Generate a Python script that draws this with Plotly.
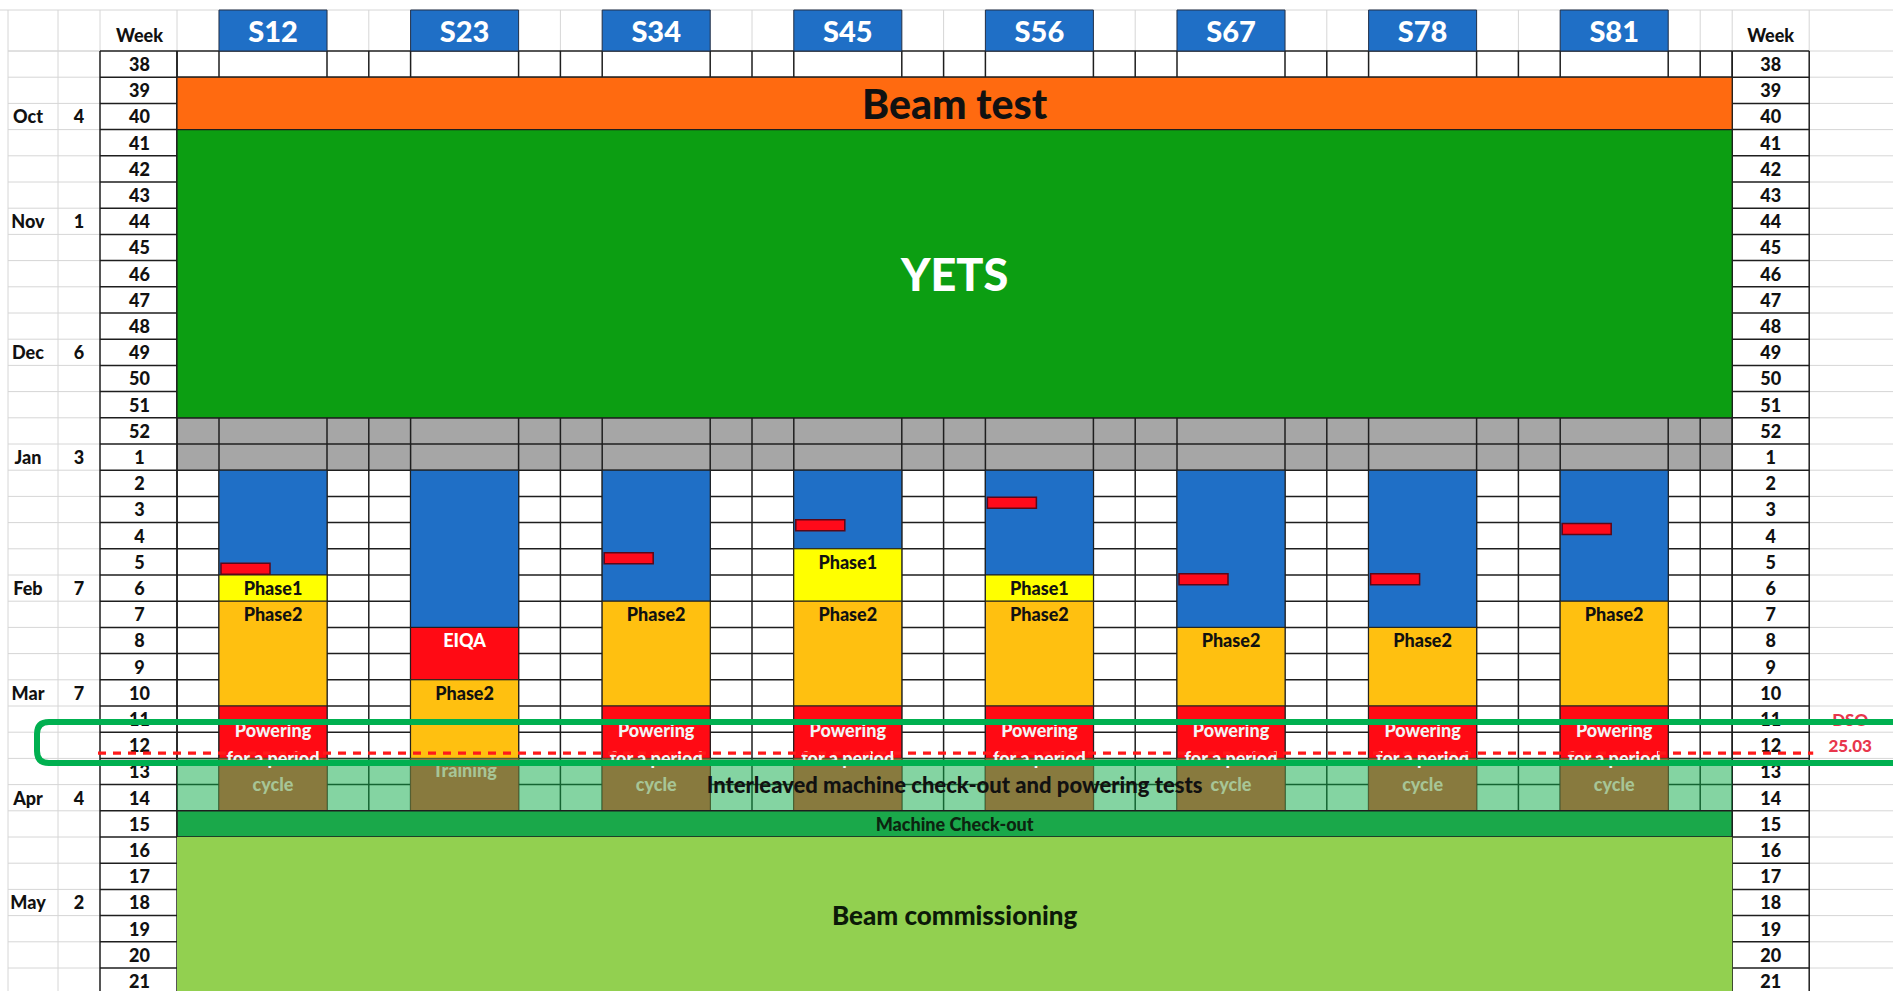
import plotly.graph_objects as go

# ---------------- data ----------------
weeks = list(range(38, 53)) + list(range(1, 22))
months = ["Oct", "Nov", "Dec", "Jan", "Feb", "Mar", "Apr", "May"]
month_weeks = [40, 44, 49, 1, 6, 10, 14, 18]
month_days = ["4", "1", "6", "3", "7", "7", "4", "2"]

sectors = ["S12", "S23", "S34", "S45", "S56", "S67", "S78", "S81"]
cooldown_start = [2, 2, 2, 2, 2, 2, 2, 2]
cooldown_end = [5, 7, 6, 4, 5, 7, 7, 6]
phase1_start = [6, None, None, 5, 6, None, None, None]
phase1_end = [6, None, None, 6, 6, None, None, None]
eiqa_start = [None, 8, None, None, None, None, None, None]
eiqa_end = [None, 9, None, None, None, None, None, None]
phase2_start = [7, 10, 7, 7, 7, 8, 8, 7]
phase2_end = [10, 12, 10, 10, 10, 10, 10, 10]
powering_start = [11, None, 11, 11, 11, 11, 11, 11]
powering_end = [12, None, 12, 12, 12, 12, 12, 12]
cycle_start = [13, 13, 13, 13, 13, 13, 13, 13]
cycle_end = [14, 14, 14, 14, 14, 14, 14, 14]
cycle_labels = ["cycle", "Training", "cycle", "", "", "cycle", "cycle", "cycle"]
milestone_week = [5.76, None, 5.36, 4.10, 3.24, 6.16, 6.16, 4.24]

beam_test_weeks = [39, 40]
yets_weeks = [41, 51]
xmas_weeks = [52, 1]
interleaved_weeks = [13, 14]
checkout_weeks = [15, 15]
commissioning_weeks = [16, 21]

dso_week = 12.8
dso_labels = ["DSO", "25.03"]
highlight_weeks = [11.61, 13.18]

# ---------------- layout geometry ----------------
W, H = 1893, 991
ROW_PX = 26.2
HEAD_TOP_PX, HEAD_BOT_PX = 10, 51
Y_TOP = -HEAD_BOT_PX / ROW_PX
Y_BOT = (H - HEAD_BOT_PX) / ROW_PX
HEAD_TOP = -(HEAD_BOT_PX - HEAD_TOP_PX) / ROW_PX

X_LEFT = 8
MONTH_W, DAY_W, WEEK_W = 50, 42, 77
LEAD_W, SEC_W, GAP_W, TAIL_W = 42, 108, 41.8, 32

x_month0 = X_LEFT
x_day0 = x_month0 + MONTH_W
x_week0 = x_day0 + DAY_W
x_data0 = x_week0 + WEEK_W
data_edges = [x_data0, x_data0 + LEAD_W]
sec_x0 = []
for k in range(len(sectors)):
    s = data_edges[-1]
    sec_x0.append(s)
    g = GAP_W if k < len(sectors) - 1 else TAIL_W
    data_edges += [s + SEC_W, s + SEC_W + g, s + SEC_W + 2 * g]
x_data1 = data_edges[-1]
x_rweek1 = x_data1 + WEEK_W
x_mid = (x_data0 + x_data1) / 2


def r(w):
    whole = int(w)
    frac = w - whole
    base = whole - 38 if whole >= 38 else whole + 14
    return base + frac


shapes = []


def rect(x0, x1, y0, y1, fill, line=None, lw=0, layer="below"):
    shapes.append(dict(type="rect", xref="x", yref="y", x0=x0, x1=x1, y0=y0, y1=y1,
                       fillcolor=fill, line=dict(color=line or fill, width=lw), layer=layer))


def seg(x0, x1, y0, y1, color, lw, layer="below", dash="solid"):
    shapes.append(dict(type="line", xref="x", yref="y", x0=x0, x1=x1, y0=y0, y1=y1,
                       line=dict(color=color, width=lw, dash=dash), layer=layer))


LIGHT = "#d6d6d6"
DARK = "#1e1e1e"
BLUE = "#1f6fc6"
nrows = len(weeks)
grid_bottom = r(14) + 1

# grey Christmas rows
rect(x_data0, x_data1, r(xmas_weeks[0]), r(xmas_weeks[1]) + 1, "#a6a6a6")

# light spreadsheet grid (left & right margins, header)
for i in range(nrows + 1):
    seg(x_month0, x_week0, i, i, LIGHT, 1)
    seg(x_rweek1, W + 5, i, i, LIGHT, 1)
seg(0, W + 5, HEAD_TOP, HEAD_TOP, LIGHT, 1)
seg(x_month0, x_week0, 0, 0, LIGHT, 1)
for xv in [x_month0, x_day0]:
    seg(xv, xv, HEAD_TOP, Y_BOT + 1, LIGHT, 1)
for xv in [x_week0] + data_edges + [x_rweek1]:
    seg(xv, xv, HEAD_TOP, 0, LIGHT, 1)

# black grid in data area
for i in range(0, int(grid_bottom) + 1):
    seg(x_data0, x_data1, i, i, DARK, 1.5)
for xv in data_edges:
    seg(xv, xv, 0, grid_bottom, DARK, 1.5)
# week columns
for (a, b) in [(x_week0, x_data0), (x_data1, x_rweek1)]:
    for i in range(nrows + 1):
        seg(a, b, i, i, DARK, 1.5)
    seg(a, a, 0, Y_BOT + 1, DARK, 1.5)
    seg(b, b, 0, Y_BOT + 1, DARK, 1.5)

# sector header boxes
for k, s in enumerate(sectors):
    rect(sec_x0[k], sec_x0[k] + SEC_W, HEAD_TOP, 0, BLUE, "#24324a", 1)

# campaign bands
rect(x_data0, x_data1, r(beam_test_weeks[0]), r(beam_test_weeks[1]) + 1, "#ff6a10", DARK, 1.2)
rect(x_data0, x_data1, r(yets_weeks[0]), r(yets_weeks[1]) + 1, "#0c9e12", DARK, 1.2)

# sector blocks
block_sets = [
    (cooldown_start, cooldown_end, BLUE),
    (phase1_start, phase1_end, "#ffff00"),
    (eiqa_start, eiqa_end, "#ff0a14"),
    (phase2_start, phase2_end, "#ffc010"),
    (powering_start, powering_end, "#ff0a14"),
]
for starts, ends, col in block_sets:
    for k in range(len(sectors)):
        if starts[k] is None:
            continue
        rect(sec_x0[k], sec_x0[k] + SEC_W, r(starts[k]), r(ends[k]) + 1, col, DARK, 1)

# interleaved band (translucent) + brown sector blocks
rect(x_data0, x_data1, r(interleaved_weeks[0]), r(interleaved_weeks[1]) + 1,
     "rgba(10,170,70,0.5)")
for k in range(len(sectors)):
    rect(sec_x0[k], sec_x0[k] + SEC_W, r(cycle_start[k]), r(cycle_end[k]) + 1, "#887a3e", "#5a5a30", 0.8)
seg(x_data0, x_data1, r(interleaved_weeks[1]) + 1, r(interleaved_weeks[1]) + 1, DARK, 1.5)

rect(x_data0, x_data1, r(checkout_weeks[0]), r(checkout_weeks[1]) + 1, "#1aa84a", DARK, 1.5)
rect(x_data0, x_data1, r(commissioning_weeks[0]), r(commissioning_weeks[1]) + 1.5, "#92d050", "#92d050", 0)

# milestone tabs
TAB_H = 11 / ROW_PX
for k in range(len(sectors)):
    m = milestone_week[k]
    if m is None:
        continue
    yc = r(m)
    rect(sec_x0[k] + 2, sec_x0[k] + 51, yc - TAB_H / 2, yc + TAB_H / 2, "#ff0a1a", "#5a0818", 1.5)

# overlays above text
yd = r(dso_week)
seg(x_week0 - 2, x_rweek1 + 4, yd, yd, "#ff1a1a", 3.4, layer="above", dash="8px,7px")
hx0, hx1 = 37, W + 40
hy0, hy1 = r(highlight_weeks[0]), r(highlight_weeks[1])
rx, ry = 12, 12 / ROW_PX
path = (f"M {hx0+rx},{hy0} L {hx1-rx},{hy0} Q {hx1},{hy0} {hx1},{hy0+ry} "
        f"L {hx1},{hy1-ry} Q {hx1},{hy1} {hx1-rx},{hy1} L {hx0+rx},{hy1} "
        f"Q {hx0},{hy1} {hx0},{hy1-ry} L {hx0},{hy0+ry} Q {hx0},{hy0} {hx0+rx},{hy0} Z")
shapes.append(dict(type="path", xref="x", yref="y", path=path, layer="above",
                   line=dict(color="#00b050", width=6), fillcolor="rgba(0,0,0,0)"))

# ---------------- text ----------------
tx, ty, tt, ts, tc = [], [], [], [], []


def txt(x, y, s, size, color="#111111"):
    # small downward correction so glyphs sit visually centred like the spreadsheet text
    tx.append(x); ty.append(y + 0.13 * size / ROW_PX)
    tt.append(s); ts.append(size); tc.append(color)


wk_label_y = (35 - HEAD_BOT_PX) / ROW_PX
txt((x_week0 + x_data0) / 2 + 1, wk_label_y, "Week", 18)
txt((x_data1 + x_rweek1) / 2, wk_label_y, "Week", 18)
for i, w in enumerate(weeks):
    txt((x_week0 + x_data0) / 2 + 1, i + 0.5, str(w), 18)
    txt((x_data1 + x_rweek1) / 2, i + 0.5, str(w), 18)
for m, mw, d in zip(months, month_weeks, month_days):
    txt((x_month0 + x_day0) / 2 - 5, r(mw) + 0.5, m, 18)
    txt((x_day0 + x_week0) / 2, r(mw) + 0.5, d, 18)
for k, s in enumerate(sectors):
    txt(sec_x0[k] + SEC_W / 2, HEAD_TOP / 2, s, 29, "#ffffff")

txt(x_mid, r(beam_test_weeks[0]) + 1, "Beam test", 41)
txt(x_mid, (r(yets_weeks[0]) + r(yets_weeks[1]) + 1) / 2, "YETS", 45, "#ffffff")

for k in range(len(sectors)):
    cx = sec_x0[k] + SEC_W / 2
    if phase1_start[k] is not None:
        txt(cx, r(phase1_start[k]) + 0.5, "Phase1", 18)
    if eiqa_start[k] is not None:
        txt(cx, r(eiqa_start[k]) + 0.5, "EIQA", 18, "#ffffff")
    txt(cx, r(phase2_start[k]) + 0.5, "Phase2", 18)
    if powering_start[k] is not None:
        txt(cx, r(powering_start[k]) + 0.93, "Powering", 18, "#f4f4f4")
        txt(cx, r(powering_start[k]) + 2.0, "for a period", 18, "#f4f4f4")
    lab = cycle_labels[k]
    if lab == "Training":
        txt(cx, r(cycle_start[k]) + 0.45, lab, 18, "#a7c596")
    elif lab:
        txt(cx, r(cycle_start[k]) + 1.0, lab, 18, "#a7c596")

txt(x_mid, r(interleaved_weeks[0]) + 1, "Interleaved machine check-out and powering tests", 22)
txt(x_mid, r(checkout_weeks[0]) + 0.5, "Machine Check-out", 18, "#0c2410")
txt(x_mid, r(commissioning_weeks[0]) + 3, "Beam commissioning", 26, "#0c1a08")

txt(x_rweek1 + 41, r(11) + 0.5, dso_labels[0], 17, "#e8364c")
txt(x_rweek1 + 41, r(12) + 0.5, dso_labels[1], 17, "#e8364c")

fig = go.Figure()
fig.add_trace(go.Scatter(x=tx, y=ty, text=tt, mode="text", textposition="middle center",
                         textfont=dict(family="Lato, 'Open Sans', sans-serif", size=ts, color=tc,
                                       weight=900),
                         hoverinfo="skip", showlegend=False))

fig.update_layout(
    width=W, height=H, margin=dict(l=0, r=0, t=0, b=0),
    paper_bgcolor="white", plot_bgcolor="white",
    xaxis=dict(range=[0, W], visible=False, fixedrange=True),
    yaxis=dict(range=[Y_BOT, Y_TOP], visible=False, fixedrange=True),
    shapes=shapes, showlegend=False,
)
fig.write_html("out.html", config={"displayModeBar": False, "staticPlot": True},
               post_script="document.body.style.margin='0';document.body.style.overflow='hidden';")
